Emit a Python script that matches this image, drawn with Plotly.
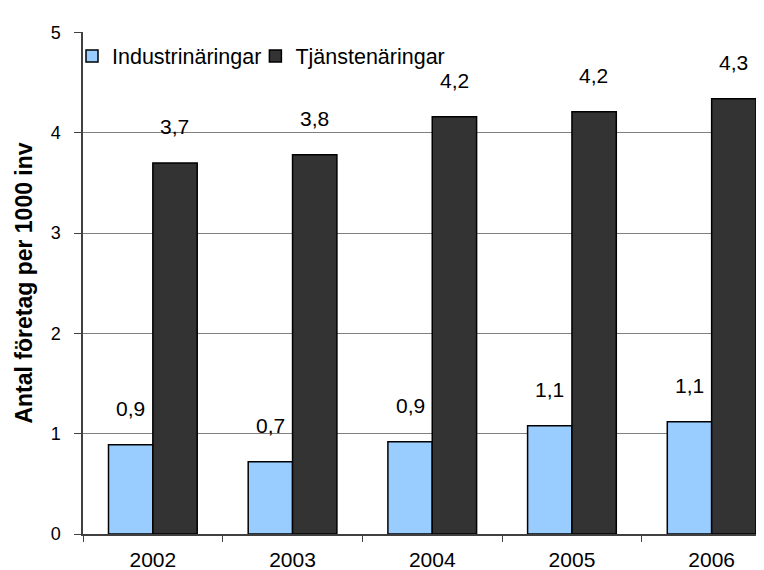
import plotly.graph_objects as go

years = ["2002", "2003", "2004", "2005", "2006"]
industri = [0.89, 0.72, 0.92, 1.08, 1.12]
tjanst = [3.70, 3.78, 4.16, 4.21, 4.34]
y_ticks = [0, 1, 2, 3, 4, 5]

FONT = "Liberation Sans, Arial, sans-serif"

fig = go.Figure()
fig.add_trace(go.Bar(name="Industrinäringar", x=years, y=industri,
                     marker=dict(color="#99CCFF", line=dict(color="#000000", width=1.5))))
fig.add_trace(go.Bar(name="Tjänstenäringar", x=years, y=tjanst,
                     marker=dict(color="#333333", line=dict(color="#000000", width=1.5))))

def fmt(v):
    return f"{v:.1f}".replace(".", ",")

# category index positions (numeric-looking category names would be misread)
for ys, dx in [(industri, -22), (tjanst, 22)]:
    for i, yv in enumerate(ys):
        fig.add_annotation(x=i, y=yv, xref="x", yref="y", text=fmt(yv), showarrow=False,
                           xshift=dx, yshift=23, yanchor="bottom",
                           font=dict(size=21, color="#000000", family=FONT))

fig.update_layout(
    width=764, height=570,
    margin=dict(l=75, r=0, t=24, b=44, autoexpand=False),
    paper_bgcolor="white", plot_bgcolor="white",
    font=dict(family=FONT, size=21, color="#000000"),
    barmode="group", bargap=0.365, bargroupgap=0,
    showlegend=True,
    legend=dict(orientation="h", x=0.0, xanchor="left", y=0.952, yanchor="middle",
                indentation=-11,
                font=dict(size=21.5), bgcolor="rgba(0,0,0,0)", itemwidth=30,
                tracegroupgap=0),
    xaxis=dict(type="category", range=[-0.5, 4.432], showline=True, linecolor="#404040", linewidth=1.5,
               ticks="outside", tickson="boundaries", ticklen=6, tickcolor="#404040",
               tickfont=dict(size=21), ticklabelstandoff=6, showgrid=False, fixedrange=True),
    yaxis=dict(range=[0, 5.005], tickvals=y_ticks, showline=True, linecolor="#404040", linewidth=1.5,
               ticks="outside", ticklen=7, tickcolor="#404040", tickfont=dict(size=18),
               ticklabelstandoff=10,
               showgrid=True, gridcolor="#808080", gridwidth=1, zeroline=False,
               title=dict(text="<b>Antal företag per 1000 inv</b>", font=dict(size=23), standoff=12)),
)

fig.write_html("out.html")
